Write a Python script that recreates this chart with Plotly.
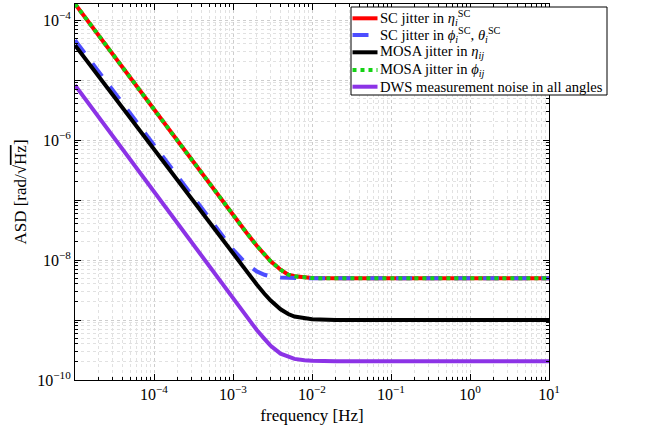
import plotly.graph_objects as go

freq = [1e-5, 1e-4, 5e-4, 1e-3, 1.5e-3, 2e-3, 2.5e-3, 3e-3, 4e-3, 5e-3, 6e-3,
        8e-3, 1e-2, 2e-2, 1e-1, 1e0, 1e1]

# ASD values [rad/sqrt(Hz)]
sc_eta = [1.86e-4, 3.2e-6, 1.9e-7, 5.62e-8, 2.79e-8, 1.73e-8, 1.22e-8, 9.5e-9,
          6.9e-9, 5.7e-9, 5.35e-9, 5.08e-9, 5.0e-9, 4.96e-9, 4.95e-9, 4.95e-9, 4.95e-9]
sc_phi_theta = [4.6e-5, 8.07e-7, 4.75e-8, 1.49e-8, 8.47e-9, 6.45e-9, 5.68e-9, 5.35e-9,
                5.1e-9, 5.03e-9, 5.0e-9, 4.97e-9, 4.95e-9, 4.95e-9, 4.95e-9, 4.95e-9, 4.95e-9]
mosa_eta = [3.8e-5, 6.9e-7, 4.2e-8, 1.26e-8, 6.3e-9, 3.9e-9, 2.74e-9, 2.11e-9,
            1.51e-9, 1.26e-9, 1.14e-9, 1.06e-9, 1.03e-9, 1.0e-9, 1.0e-9, 1.0e-9, 1.0e-9]
mosa_phi = [1.86e-4, 3.2e-6, 1.9e-7, 5.62e-8, 2.79e-8, 1.73e-8, 1.22e-8, 9.5e-9,
            6.9e-9, 5.7e-9, 5.35e-9, 5.08e-9, 5.0e-9, 4.96e-9, 4.95e-9, 4.95e-9, 4.95e-9]
dws = [8.2e-6, 1.35e-7, 7.7e-9, 2.25e-9, 1.11e-9, 6.8e-10, 4.84e-10, 3.7e-10,
       2.75e-10, 2.42e-10, 2.25e-10, 2.13e-10, 2.09e-10, 2.06e-10, 2.05e-10, 2.05e-10, 2.05e-10]

names = [
    "SC jitter in <i>η</i><sub><i>i</i></sub><sup>SC</sup>",
    "SC jitter in <i>ϕ</i><sub><i>i</i></sub><sup>SC</sup>, <i>θ</i><sub><i>i</i></sub><sup>SC</sup>",
    "MOSA jitter in <i>η</i><sub><i>ij</i></sub>",
    "MOSA jitter in <i>ϕ</i><sub><i>ij</i></sub>",
    "DWS measurement noise in all angles",
]
series = [sc_eta, sc_phi_theta, mosa_eta, mosa_phi, dws]
colors = ["#ff0000", "#4d4dff", "#000000", "#14d214", "#8c33e6"]
dashes = ["solid", "16px,13px", "solid", "4px,4px", "solid"]

x_tickvals = [1e-4, 1e-3, 1e-2, 1e-1, 1e0, 1e1]
x_ticktext = ["10<sup>−4</sup>", "10<sup>−3</sup>", "10<sup>−2</sup>",
              "10<sup>−1</sup>", "10<sup>0</sup>", "10<sup>1</sup>"]
y_tickvals = [1e-10, 1e-9, 1e-8, 1e-7, 1e-6, 1e-5, 1e-4]
y_ticktext = ["10<sup>−10</sup>", "", "10<sup>−8</sup>", "", "10<sup>−6</sup>", "",
              "10<sup>−4</sup>"]

FONT = "Liberation Serif"
W = 4

fig = go.Figure()
for nm, ys, c, d in zip(names, series, colors, dashes):
    fig.add_trace(go.Scatter(x=freq, y=ys, mode="lines", name=nm, showlegend=False,
                             line=dict(color=c, width=W, dash=d)))

axis_common = dict(
    type="log",
    showline=True, linecolor="black", linewidth=1, mirror="allticks",
    ticks="inside", ticklen=6, tickcolor="black", tickwidth=1,
    showgrid=True, gridcolor="rgb(205,205,205)", griddash="dot", gridwidth=1,
    zeroline=False,
    tickfont=dict(family=FONT, size=16, color="black"),
    minor=dict(ticks="inside", ticklen=3, tickcolor="black", dtick="D1",
               showgrid=True, gridcolor="rgb(225,225,225)", griddash="dot", gridwidth=1),
)

fig.update_xaxes(**axis_common, range=[-5, 1], tickmode="array",
                 tickvals=x_tickvals, ticktext=x_ticktext,
                 title=dict(text="frequency [Hz]", font=dict(family=FONT, size=17, color="black"),
                            standoff=6))
fig.update_yaxes(**axis_common, range=[-10, -3.733], tickmode="array",
                 tickvals=y_tickvals, ticktext=y_ticktext,
                 title=dict(text="ASD [rad/√<span style='text-decoration:overline'>Hz</span>]",
                            font=dict(family=FONT, size=17, color="black"), standoff=6))

# ---- legend box (drawn manually to match compact reference layout) ----
PL, PR, PT, PB = 75, 549, 4, 380   # plot area in pixels


def px(xp):
    return (xp - PL) / (PR - PL)


def py(yp):
    return (PB - yp) / (PB - PT)


shapes = [dict(type="rect", xref="paper", yref="paper",
               x0=px(351), x1=px(607), y0=py(95), y1=py(7),
               fillcolor="white", line=dict(color="black", width=1), layer="above")]
annotations = []
row_y = [18.3, 35.0, 52.3, 70.0, 86.7]
for nm, c, d, ry in zip(names, colors, dashes, row_y):
    shapes.append(dict(type="line", xref="paper", yref="paper",
                       x0=px(352.5), x1=px(377.5), y0=py(ry), y1=py(ry),
                       line=dict(color=c, width=W, dash=d), layer="above"))
    annotations.append(dict(xref="paper", yref="paper", x=px(378), y=py(ry),
                            xanchor="left", yanchor="middle", showarrow=False,
                            text=nm, font=dict(family=FONT, size=14.6, color="black")))

fig.update_layout(
    width=651, height=435,
    margin=dict(l=PL, r=651 - PR, t=PT, b=435 - PB),
    paper_bgcolor="white", plot_bgcolor="white",
    showlegend=False,
    shapes=shapes, annotations=annotations,
    font=dict(family=FONT, color="black"),
)

fig.write_html("out.html")
